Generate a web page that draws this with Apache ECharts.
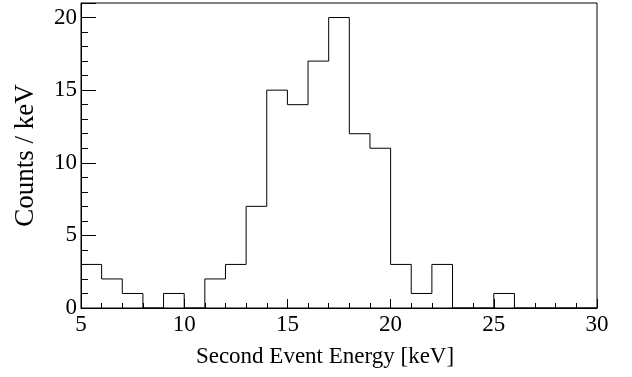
<!DOCTYPE html>
<html>
<head>
<meta charset="utf-8">
<script src="https://cdn.jsdelivr.net/npm/echarts@6/dist/echarts.min.js"></script>
<style>
  html, body { margin: 0; padding: 0; background: #fff; }
  #main { width: 632px; height: 377px; }
</style>
</head>
<body>
<div id="main"></div>
<script>
// bin low edges (keV), width 1
const binEdges = [5, 6, 7, 8, 9, 10, 11, 12, 13, 14, 15, 16, 17, 18, 19, 20, 21, 22, 23, 24, 25, 26, 27, 28, 29];
// counts per bin
const counts = [3, 2, 1, 0, 1, 0, 2, 3, 7, 15, 14, 17, 20, 12, 11, 3, 1, 3, 0, 0, 1, 0, 0, 0, 0];
const xTickLabels = [5, 10, 15, 20, 25, 30];
const yTickLabels = [0, 5, 10, 15, 20];

const chart = echarts.init(document.getElementById('main'));

// step outline: value held from low edge to high edge
const stepData = binEdges.map((e, i) => [e, counts[i]]);
stepData.push([binEdges[binEdges.length - 1] + 1, counts[counts.length - 1]]);

const font = 'Liberation Serif';

chart.setOption({
  animation: false,
  grid: {
    left: 81, right: 35, top: 3, bottom: 69,
    outerBoundsMode: 'none',
    containLabel: false,
    show: true, borderColor: '#000', borderWidth: 1, backgroundColor: 'transparent'
  },
  xAxis: {
    type: 'value',
    min: 5, max: 30, interval: 5,
    name: 'Second Event Energy [keV]',
    nameLocation: 'middle',
    nameGap: 37,
    nameTextStyle: { fontFamily: font, fontSize: 23, color: '#000', padding: [0, 28, 0, 0] },
    axisLine: { show: true, onZero: false, lineStyle: { color: '#000', width: 1 } },
    axisTick: { show: true, inside: true, length: 9, lineStyle: { color: '#000' } },
    minorTick: { show: true, splitNumber: 5, length: 5, lineStyle: { color: '#000' } },
    splitLine: { show: false },
    axisLabel: {
      fontFamily: font, fontSize: 23, color: '#000', margin: 5,
      formatter: v => xTickLabels.includes(v) ? String(v) : ''
    }
  },
  yAxis: {
    type: 'value',
    min: 0, max: 21, interval: 5,
    name: 'Counts / keV',
    nameLocation: 'middle',
    nameGap: 42,
    nameTextStyle: { fontFamily: font, fontSize: 27, color: '#000' },
    axisLine: { show: true, lineStyle: { color: '#000', width: 1 } },
    axisTick: { show: true, inside: true, length: 15, lineStyle: { color: '#000' } },
    minorTick: { show: true, splitNumber: 5, length: 7, lineStyle: { color: '#000' } },
    splitLine: { show: false },
    axisLabel: {
      fontFamily: font, fontSize: 23, color: '#000', margin: 4,
      showMaxLabel: false,
      formatter: v => yTickLabels.includes(v) ? String(v) : ''
    }
  },
  series: [{
    type: 'line',
    step: 'end',
    data: stepData,
    symbol: 'none',
    lineStyle: { color: '#000', width: 1 },
    z: 3
  }]
});
</script>
</body>
</html>
